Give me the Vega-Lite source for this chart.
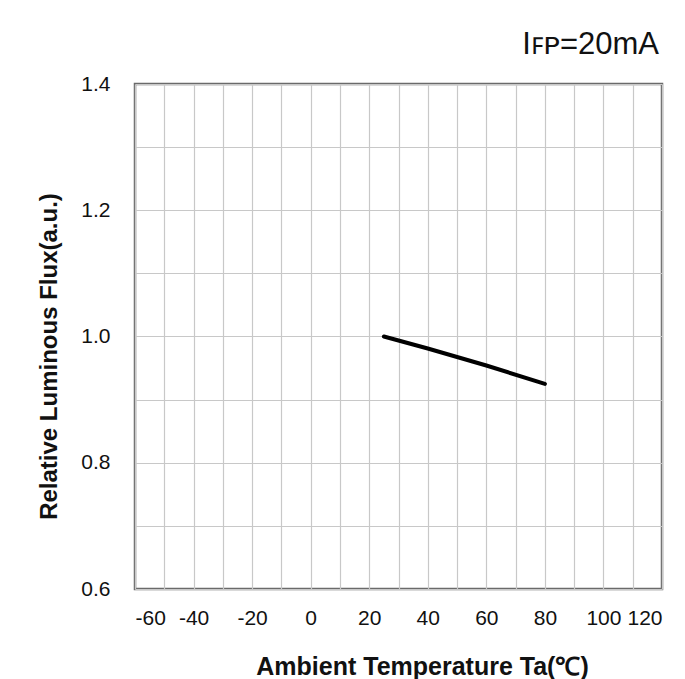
{
  "$schema": "https://vega.github.io/schema/vega-lite/v6.json",
  "width": 527,
  "height": 505,
  "autosize": "none",
  "padding": {"left": 135, "top": 84, "right": 23, "bottom": 90},
  "background": "white",
  "title": {
    "text": "Iꜰᴘ=20mA",
    "anchor": "end",
    "orient": "top",
    "font": "Liberation Sans",
    "fontSize": 31,
    "fontWeight": "normal",
    "color": "#111111",
    "offset": 12,
    "dx": -3
  },
  "config": {
    "view": {"stroke": "#6a6a6a", "strokeWidth": 2.5},
    "axis": {
      "labelFont": "Liberation Sans",
      "labelFontSize": 21,
      "labelColor": "#111111",
      "titleFont": "Liberation Sans",
      "titleFontWeight": "bold",
      "titleColor": "#111111",
      "gridColor": "#c8c8c8",
      "gridWidth": 1.2,
      "gridOpacity": 1,
      "ticks": false,
      "domain": false
    }
  },
  "data": {
    "values": [
      {"temp": 25, "flux": 1.0},
      {"temp": 40, "flux": 0.981},
      {"temp": 60, "flux": 0.954},
      {"temp": 80, "flux": 0.925}
    ]
  },
  "mark": {"type": "line", "color": "#000000", "strokeWidth": 4, "strokeCap": "round"},
  "encoding": {
    "x": {
      "field": "temp",
      "type": "quantitative",
      "scale": {"domain": [-60, 120], "nice": false},
      "axis": {
        "title": "Ambient Temperature Ta(℃)",
        "titleFontSize": 25,
        "values": [-60, -50, -40, -30, -20, -10, 0, 10, 20, 30, 40, 50, 60, 70, 80, 90, 100, 110, 120],
        "labelExpr": "datum.value % 20 == 0 ? '' + datum.value : ''",
        "labelPadding": 18,
        "titlePadding": 26,
        "titleX": 287
      }
    },
    "y": {
      "field": "flux",
      "type": "quantitative",
      "scale": {"domain": [0.6, 1.4], "nice": false, "zero": false},
      "axis": {
        "title": "Relative Luminous Flux(a.u.)",
        "titleFontSize": 24,
        "values": [0.6, 0.7, 0.8, 0.9, 1.0, 1.1, 1.2, 1.3, 1.4],
        "format": ".1f",
        "labelExpr": "round(datum.value * 10) % 2 == 0 ? datum.label : ''",
        "labelPadding": 25,
        "titlePadding": 19,
        "titleY": 272
      }
    }
  }
}
